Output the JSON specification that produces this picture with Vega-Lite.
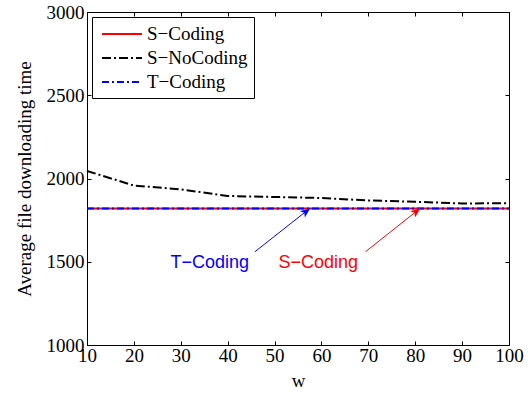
{
  "$schema": "https://vega.github.io/schema/vega-lite/v6.json",
  "width": 422,
  "height": 333,
  "autosize": {"type": "none"},
  "padding": {"left": 87, "top": 12, "right": 19, "bottom": 51},
  "background": "white",
  "config": {
    "view": {"stroke": "black", "strokeWidth": 1},
    "axis": {
      "grid": false,
      "domain": false,
      "ticks": true,
      "tickColor": "black",
      "tickWidth": 1,
      "tickSize": 4,
      "offset": -4,
      "labelFlush": false,
      "labelFont": "Liberation Serif",
      "labelFontSize": 19,
      "labelColor": "black",
      "titleFont": "Liberation Serif",
      "titleFontSize": 19,
      "titleFontWeight": "normal",
      "titleColor": "black"
    },
    "legend": {
      "orient": "none",
      "legendX": 5,
      "legendY": 5,
      "fillColor": "white",
      "strokeColor": "black",
      "padding": 6,
      "labelFont": "Liberation Serif",
      "labelFontSize": 19,
      "labelColor": "black",
      "symbolType": "M-2,0 L2,0",
      "symbolSize": 400,
      "symbolStrokeWidth": 2,
      "symbolOffset": 13,
      "labelOffset": 14,
      "rowPadding": 3,
      "title": null
    }
  },
  "datasets": {
    "lines": [
      {"series": "S−Coding", "w": 10, "t": 1820},
      {"series": "S−Coding", "w": 20, "t": 1820},
      {"series": "S−Coding", "w": 30, "t": 1820},
      {"series": "S−Coding", "w": 40, "t": 1820},
      {"series": "S−Coding", "w": 50, "t": 1820},
      {"series": "S−Coding", "w": 60, "t": 1820},
      {"series": "S−Coding", "w": 70, "t": 1820},
      {"series": "S−Coding", "w": 80, "t": 1820},
      {"series": "S−Coding", "w": 90, "t": 1820},
      {"series": "S−Coding", "w": 100, "t": 1820},
      {"series": "S−NoCoding", "w": 10, "t": 2045},
      {"series": "S−NoCoding", "w": 20, "t": 1958},
      {"series": "S−NoCoding", "w": 30, "t": 1935},
      {"series": "S−NoCoding", "w": 40, "t": 1895},
      {"series": "S−NoCoding", "w": 50, "t": 1889},
      {"series": "S−NoCoding", "w": 60, "t": 1883},
      {"series": "S−NoCoding", "w": 70, "t": 1868},
      {"series": "S−NoCoding", "w": 80, "t": 1860},
      {"series": "S−NoCoding", "w": 90, "t": 1850},
      {"series": "S−NoCoding", "w": 100, "t": 1852},
      {"series": "T−Coding", "w": 10, "t": 1820},
      {"series": "T−Coding", "w": 20, "t": 1820},
      {"series": "T−Coding", "w": 30, "t": 1820},
      {"series": "T−Coding", "w": 40, "t": 1820},
      {"series": "T−Coding", "w": 50, "t": 1820},
      {"series": "T−Coding", "w": 60, "t": 1820},
      {"series": "T−Coding", "w": 70, "t": 1820},
      {"series": "T−Coding", "w": 80, "t": 1820},
      {"series": "T−Coding", "w": 90, "t": 1820},
      {"series": "T−Coding", "w": 100, "t": 1820}
    ],
    "arrows": [
      {"label": "T−Coding", "w0": 45.8, "t0": 1560, "w1": 57.6, "t1": 1822, "lw": 36.2, "lt": 1494},
      {"label": "S−Coding", "w0": 69.4, "t0": 1560, "w1": 81.1, "t1": 1822, "lw": 59.3, "lt": 1494}
    ]
  },
  "layer": [
    {
      "data": {"name": "lines"},
      "mark": {"type": "line", "strokeWidth": 2},
      "encoding": {
        "x": {
          "field": "w", "type": "quantitative",
          "scale": {"domain": [10, 100], "nice": false, "zero": false},
          "axis": {"orient": "bottom", "values": [10, 20, 30, 40, 50, 60, 70, 80, 90, 100], "title": "w", "labelPadding": 1, "titlePadding": 6}
        },
        "y": {
          "field": "t", "type": "quantitative",
          "scale": {"domain": [1000, 3000], "nice": false, "zero": false},
          "axis": {"orient": "left", "format": "d", "values": [1000, 1500, 2000, 2500, 3000], "title": "Average file downloading time", "labelPadding": 3, "titlePadding": 12}
        },
        "color": {
          "field": "series", "type": "nominal",
          "scale": {"domain": ["S−Coding", "S−NoCoding", "T−Coding"], "range": ["#ff0000", "#000000", "#0000ff"]}
        },
        "strokeDash": {
          "field": "series", "type": "nominal",
          "scale": {"domain": ["S−Coding", "S−NoCoding", "T−Coding"], "range": [[1, 0], [9, 3, 2, 3], [7, 3, 2, 3]]}
        }
      }
    },
    {
      "data": {"name": "arrows"},
      "transform": [{"filter": "datum.label === 'T−Coding'"}],
      "mark": {"type": "rule", "color": "#0000ff", "strokeWidth": 1},
      "encoding": {
        "x": {"field": "w0", "type": "quantitative", "axis": {"orient": "top", "values": [10, 20, 30, 40, 50, 60, 70, 80, 90, 100], "labels": false, "title": null}},
        "y": {"field": "t0", "type": "quantitative", "axis": {"orient": "right", "values": [1000, 1500, 2000, 2500, 3000], "labels": false, "title": null}},
        "x2": {"field": "w1"},
        "y2": {"field": "t1"}
      }
    },
    {
      "data": {"name": "arrows"},
      "transform": [{"filter": "datum.label === 'S−Coding'"}],
      "mark": {"type": "rule", "color": "#ff0000", "strokeWidth": 1},
      "encoding": {
        "x": {"field": "w0", "type": "quantitative", "axis": null},
        "y": {"field": "t0", "type": "quantitative", "axis": null},
        "x2": {"field": "w1"},
        "y2": {"field": "t1"}
      }
    },
    {
      "data": {"name": "arrows"},
      "transform": [{"filter": "datum.label === 'T−Coding'"}],
      "mark": {"type": "point", "shape": "M0,0 L0.4,1 L0,0.75 L-0.4,1 Z", "size": 400, "angle": 51.5, "filled": true, "color": "#0000ff", "opacity": 1},
      "encoding": {
        "x": {"field": "w1", "type": "quantitative", "axis": null},
        "y": {"field": "t1", "type": "quantitative", "axis": null}
      }
    },
    {
      "data": {"name": "arrows"},
      "transform": [{"filter": "datum.label === 'S−Coding'"}],
      "mark": {"type": "point", "shape": "M0,0 L0.4,1 L0,0.75 L-0.4,1 Z", "size": 400, "angle": 51.5, "filled": true, "color": "#ff0000", "opacity": 1},
      "encoding": {
        "x": {"field": "w1", "type": "quantitative", "axis": null},
        "y": {"field": "t1", "type": "quantitative", "axis": null}
      }
    },
    {
      "data": {"name": "arrows"},
      "transform": [{"filter": "datum.label === 'T−Coding'"}],
      "mark": {"type": "text", "font": "Liberation Sans", "fontSize": 18, "color": "#0000ff", "align": "center", "baseline": "middle"},
      "encoding": {
        "x": {"field": "lw", "type": "quantitative", "axis": null},
        "y": {"field": "lt", "type": "quantitative", "axis": null},
        "text": {"field": "label"}
      }
    },
    {
      "data": {"name": "arrows"},
      "transform": [{"filter": "datum.label === 'S−Coding'"}],
      "mark": {"type": "text", "font": "Liberation Sans", "fontSize": 18, "color": "#ff0000", "align": "center", "baseline": "middle"},
      "encoding": {
        "x": {"field": "lw", "type": "quantitative", "axis": null},
        "y": {"field": "lt", "type": "quantitative", "axis": null},
        "text": {"field": "label"}
      }
    }
  ],
  "resolve": {"axis": {"x": "independent", "y": "independent"}}
}
